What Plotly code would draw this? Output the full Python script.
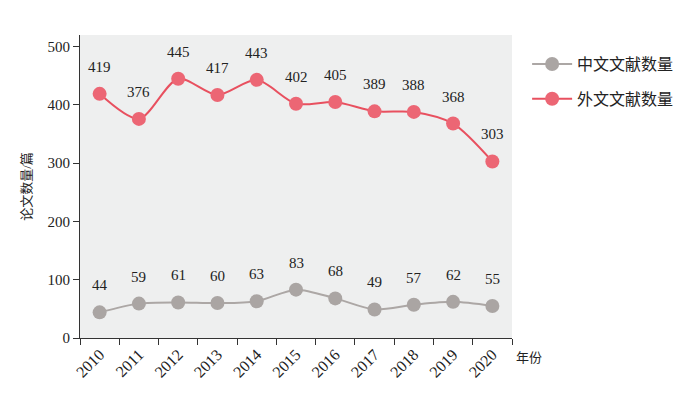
import plotly.graph_objects as go

years = ["2010", "2011", "2012", "2013", "2014", "2015", "2016", "2017", "2018", "2019", "2020"]
chinese = [44, 59, 61, 60, 63, 83, 68, 49, 57, 62, 55]
foreign = [419, 376, 445, 417, 443, 402, 405, 389, 388, 368, 303]

FONT = "Liberation Serif, Noto Sans CJK SC, serif"
RED_LINE = "#e8505f"
RED_MK = "#ec6674"
GRAY_LINE = "#aca7a5"
GRAY_MK = "#aaa5a3"

fig = go.Figure()
fig.add_trace(go.Scatter(
    x=years, y=chinese, name="中文文献数量", mode="lines+markers", legendgroup="a",
    line=dict(color=GRAY_LINE, width=2, shape="spline", smoothing=0.8),
    marker=dict(color=GRAY_MK, size=14),
))
fig.add_trace(go.Scatter(
    x=years, y=foreign, name="外文文献数量", mode="lines+markers", legendgroup="b",
    line=dict(color=RED_LINE, width=2, shape="spline", smoothing=0.8),
    marker=dict(color=RED_MK, size=14),
))

for series in (chinese, foreign):
    for i, v in enumerate(series):
        fig.add_annotation(x=i, y=v, text=str(v), showarrow=False, yshift=27,
                           font=dict(family=FONT, size=15, color="#222"))

fig.add_annotation(xref="paper", yref="paper", x=1.005, y=0, yshift=-29, xanchor="left",
                   text="年份", showarrow=False, font=dict(family=FONT, size=13, color="#222"))

fig.update_layout(
    width=700, height=395,
    margin=dict(l=72, r=196, t=27, b=65),
    paper_bgcolor="white",
    plot_bgcolor="#eeefef",
    font=dict(family=FONT, size=14, color="#222"),
    showlegend=True,
    legend=dict(x=1.035, y=0.96, xanchor="left", yanchor="top",
                font=dict(family=FONT, size=16, color="#222"),
                itemwidth=40, tracegroupgap=11, bgcolor="rgba(0,0,0,0)"),
)
fig.update_xaxes(
    type="category", categoryorder="array", categoryarray=years,
    range=[-0.5, len(years) - 0.5],
    tickson="boundaries", ticks="outside", ticklen=6,
    tickcolor="#333", showline=True, linecolor="#333", linewidth=1,
    showgrid=False, tickangle=-45, tickfont=dict(family=FONT, size=16),
)
fig.update_yaxes(
    range=[0, 520], tickvals=[0, 100, 200, 300, 400, 500], ticks="outside", ticklen=6,
    tickcolor="#333", showline=True, linecolor="#333", linewidth=1,
    showgrid=False, zeroline=False, tickfont=dict(family=FONT, size=15),
    title=dict(text="论文数量/篇", font=dict(family=FONT, size=13), standoff=12),
)

fig.write_html("out.html")
